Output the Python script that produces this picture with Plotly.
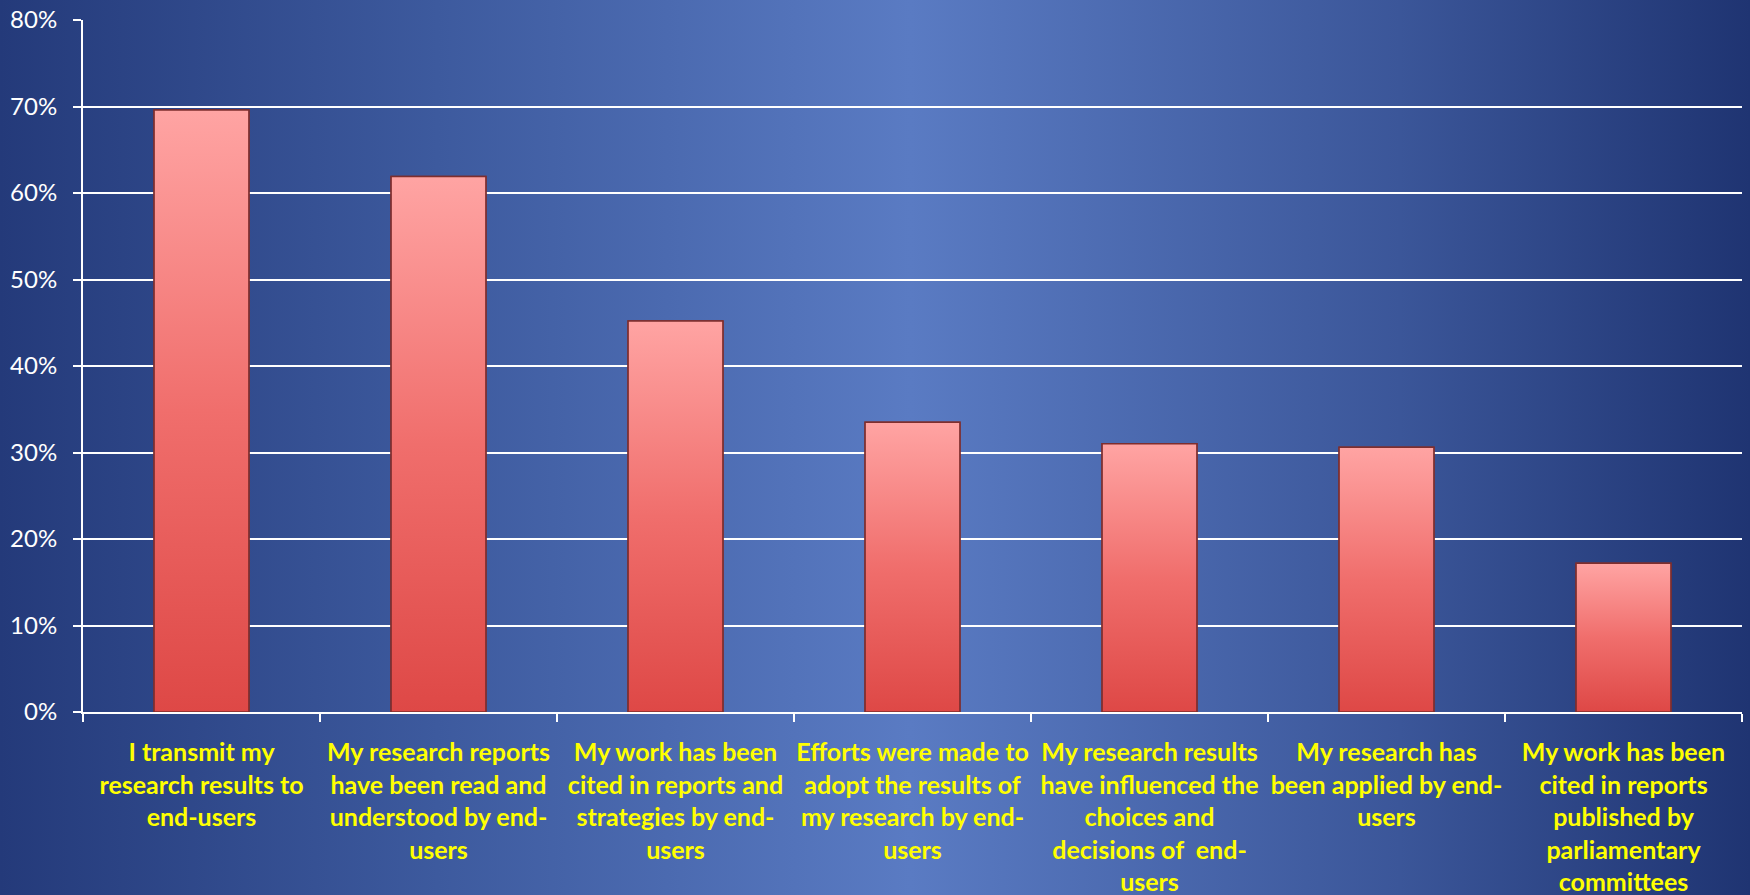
import plotly.graph_objects as go

categories = [
    "I transmit my<br>research results to<br>end-users",
    "My research reports<br>have been read and<br>understood by end-<br>users",
    "My work has been<br>cited in reports and<br>strategies by end-<br>users",
    "Efforts were made to<br>adopt the results of<br>my research by end-<br>users",
    "My research results<br>have influenced the<br>choices and<br>decisions of  end-<br>users",
    "My research has<br>been applied by end-<br>users",
    "My work has been<br>cited in reports<br>published by<br>parliamentary<br>committees",
]
values = [69.6, 61.9, 45.2, 33.5, 31.0, 30.6, 17.2]
y_ticks = [0, 10, 20, 30, 40, 50, 60, 70, 80]

W, H = 1750, 895
BAR_W = 0.4
idx = list(range(len(categories)))

fig = go.Figure()

# background gradient (decorative) on full-paper axes
fig.add_trace(go.Scatter(
    x=[0, 1, 1, 0, 0], y=[0, 0, 1, 1, 0], mode="none", fill="toself",
    fillgradient=dict(type="horizontal",
                      colorscale=[[0, "#243A7A"], [0.25, "#3D5A9E"], [0.52, "#5A7BC3"],
                                  [0.8, "#3B5699"], [1, "#1F3472"]]),
    hoverinfo="skip", showlegend=False, xaxis="x", yaxis="y"))

# data bars
fig.add_trace(go.Bar(
    x=idx, y=values, width=BAR_W,
    marker=dict(color="#E85858", line=dict(color="#7E2E2E", width=1.5)),
    showlegend=False, xaxis="x2", yaxis="y2"))

# gradient overlay for each bar
for i, v in zip(idx, values):
    fig.add_trace(go.Scatter(
        x=[i - BAR_W / 2, i + BAR_W / 2, i + BAR_W / 2, i - BAR_W / 2, i - BAR_W / 2],
        y=[0, 0, v, v, 0], mode="lines", fill="toself",
        line=dict(color="#7E2E2E", width=1.5),
        fillgradient=dict(type="vertical",
                          colorscale=[[0, "#DE4846"], [0.5, "#F06E6C"], [1, "#FFA4A3"]]),
        hoverinfo="skip", showlegend=False, xaxis="x2", yaxis="y2"))

x0, x1 = 83 / W, 1742 / W
y0, y1 = (H - 712) / H, (H - 20) / H

fig.update_layout(
    width=W, height=H,
    margin=dict(l=0, r=0, t=0, b=0, pad=0, autoexpand=False),
    paper_bgcolor="#2E4788", plot_bgcolor="rgba(0,0,0,0)",
    bargap=0.6,
    xaxis=dict(domain=[0, 1], range=[0, 1], visible=False, fixedrange=True),
    yaxis=dict(domain=[0, 1], range=[0, 1], visible=False, fixedrange=True),
    xaxis2=dict(
        domain=[x0, x1], anchor="y2", range=[-0.5, len(categories) - 0.5],
        tickmode="array", tickvals=idx, ticktext=categories, ticks="",
        tickfont=dict(family="Lato", size=25, color="#FFFF00", weight=700),
        ticklabelstandoff=17,
        showgrid=False, zeroline=False,
        showline=True, linecolor="white", linewidth=2,
        minor=dict(tickmode="array", tickvals=[i - 0.5 for i in range(len(categories) + 1)],
                   ticks="outside", ticklen=8, tickcolor="white", tickwidth=2, showgrid=False),
    ),
    yaxis2=dict(
        domain=[y0, y1], anchor="x2", range=[0, 80],
        tickmode="array", tickvals=y_ticks, ticktext=[f"{t}%" for t in y_ticks],
        ticks="outside", ticklen=8, tickcolor="white", tickwidth=2,
        tickfont=dict(family="Lato", size=24, color="white"),
        ticklabelstandoff=11,
        showgrid=True, gridcolor="white", gridwidth=2,
        zeroline=False, showline=True, linecolor="white", linewidth=2,
    ),
)

fig.write_html("out.html")
